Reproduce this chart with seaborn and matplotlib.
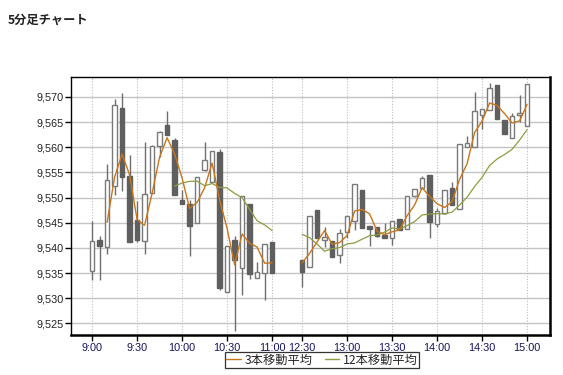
import numpy as np
import pandas as pd
import matplotlib
matplotlib.use("Agg")
import matplotlib.pyplot as plt
import seaborn as sns
from matplotlib.lines import Line2D
from matplotlib.ticker import FuncFormatter

# ---------------- data ----------------
am_times = ["9:00", "9:05", "9:10", "9:15", "9:20", "9:25", "9:30", "9:35", "9:40", "9:45",
            "9:50", "9:55", "10:00", "10:05", "10:10", "10:15", "10:20", "10:25", "10:30",
            "10:35", "10:40", "10:45", "10:50", "10:55", "11:00"]
pm_times = ["12:30", "12:35", "12:40", "12:45", "12:50", "12:55", "13:00", "13:05", "13:10",
            "13:15", "13:20", "13:25", "13:30", "13:35", "13:40", "13:45", "13:50", "13:55",
            "14:00", "14:05", "14:10", "14:15", "14:20", "14:25", "14:30", "14:35", "14:40",
            "14:45", "14:50", "14:55", "15:00"]

opens = [9535.5, 9541.5, 9540.2, 9552.3, 9567.7, 9554.2, 9545.6, 9541.4, 9550.9, 9560.2,
         9564.4, 9561.5, 9549.5, 9548.8, 9544.9, 9555.4, 9553.1, 9559.0, 9531.3, 9541.5,
         9536.1, 9548.8, 9534.1, 9535.1, 9541.1,
         9537.6, 9536.3, 9547.5, 9541.5, 9541.4, 9538.6, 9543.1, 9545.3, 9551.5, 9544.3,
         9544.1, 9542.5, 9541.9, 9545.7, 9543.7, 9550.4, 9551.9, 9554.5, 9544.7, 9547.0,
         9552.0, 9547.8, 9560.1, 9560.1, 9566.5, 9567.4, 9572.3, 9565.4, 9561.9, 9566.5,
         9564.2]
highs = [9545.4, 9542.4, 9556.6, 9569.5, 9570.8, 9558.4, 9549.4, 9561.1, 9560.4, 9563.2,
         9567.2, 9561.9, 9551.5, 9549.5, 9554.0, 9561.1, 9559.2, 9559.7, 9540.4, 9542.4,
         9550.3, 9548.8, 9537.2, 9540.7, 9541.1,
         9537.6, 9546.3, 9547.5, 9544.1, 9541.4, 9543.7, 9546.3, 9552.7, 9551.5, 9544.3,
         9544.1, 9545.0, 9545.4, 9545.7, 9550.3, 9551.8, 9554.3, 9554.5, 9548.0, 9551.6,
         9553.1, 9560.7, 9562.2, 9571.0, 9567.5, 9572.8, 9572.3, 9565.4, 9566.9, 9570.3,
         9572.5]
lows = [9533.7, 9533.6, 9538.8, 9550.5, 9551.3, 9541.2, 9541.2, 9538.8, 9550.9, 9558.1,
        9562.4, 9550.5, 9548.7, 9538.4, 9544.9, 9555.3, 9553.1, 9531.7, 9531.3, 9523.5,
        9530.6, 9533.8, 9534.1, 9529.6, 9535.1,
        9532.2, 9536.3, 9542.0, 9540.1, 9538.1, 9537.0, 9541.9, 9543.5, 9543.9, 9540.4,
        9542.2, 9541.9, 9540.6, 9543.5, 9543.7, 9550.2, 9551.9, 9541.9, 9544.2, 9546.7,
        9548.6, 9547.8, 9560.1, 9560.1, 9563.7, 9567.4, 9565.7, 9562.6, 9561.9, 9565.1,
        9564.2]
closes = [9541.3, 9540.4, 9553.5, 9568.3, 9554.1, 9541.2, 9541.5, 9550.8, 9560.2, 9563.1,
          9562.4, 9550.5, 9548.7, 9544.4, 9554.0, 9557.4, 9559.2, 9532.0, 9540.4, 9537.6,
          9550.3, 9534.9, 9535.3, 9540.7, 9535.1,
          9535.3, 9546.3, 9542.0, 9542.1, 9538.1, 9543.0, 9546.3, 9552.7, 9543.9, 9543.7,
          9542.3, 9541.9, 9545.4, 9543.5, 9550.3, 9551.8, 9553.8, 9545.1, 9547.4, 9551.6,
          9548.6, 9560.7, 9560.9, 9567.2, 9567.5, 9571.7, 9565.7, 9562.6, 9566.2, 9566.9,
          9572.5]

tick_labels = ["9:00", "9:30", "10:00", "10:30", "11:00", "12:30",
               "13:00", "13:30", "14:00", "14:30", "15:00"]
title_text = "5分足チャート"
legend_labels = ["3本移動平均", "12本移動平均"]

# ---------------- layout constants ----------------
PM_SLOT_START = 28   # category slot of the first afternoon bar
BODY_W = 0.62
UP_EDGE = "#7a7a7a"
DOWN_FILL = "#5f5f5f"
WICK = "#6e6e6e"
MA3_COLOR = "#c8761a"
MA12_COLOR = "#8f9c3e"


def slot(t, session):
    h, m = map(int, t.split(":"))
    mins = h * 60 + m
    if session == "am":
        return (mins - 9 * 60) / 5
    return (mins - (12 * 60 + 30)) / 5 + PM_SLOT_START


times = am_times + pm_times
sessions = ["am"] * len(am_times) + ["pm"] * len(pm_times)
df = pd.DataFrame({"time": times, "session": sessions,
                   "open": opens, "high": highs, "low": lows, "close": closes})
df["pos"] = [slot(t, s) for t, s in zip(df["time"], df["session"])]
df["ma3"] = df["close"].rolling(3).mean()
df["ma12"] = df["close"].rolling(12).mean()
df["up"] = df["close"] >= df["open"]

pos_lookup = dict(zip(df["time"], df["pos"]))
tick_pos = [pos_lookup[t] for t in tick_labels]

# ---------------- drawing ----------------
sns.set_style("white")
plt.rcParams["font.family"] = ["Liberation Sans", "Noto Sans CJK JP"]

fig = plt.figure(figsize=(5.63, 3.75), dpi=100)
ax = fig.add_axes([0.1256, 0.1067, 0.9769 - 0.1256, 0.7939 - 0.1067])

# grid
for v in np.arange(9525, 9571, 5):
    ax.axhline(v, color="#c4c4c4", lw=1.0, zorder=0)
for p in tick_pos:
    ax.axvline(p, color="#bdbdbd", lw=0.8, ls=(0, (1, 1.5)), zorder=0)

# wicks
ax.vlines(df["pos"], df["low"], df["high"], color=WICK, lw=1.0, zorder=2)

# bodies
body_bottom = np.minimum(df["open"], df["close"])
body_h = np.maximum(np.abs(df["close"] - df["open"]), 0.25)
up = df["up"].values
ax.bar(df["pos"][up], body_h[up], bottom=body_bottom[up], width=BODY_W,
       color="white", edgecolor=UP_EDGE, linewidth=1.0, zorder=3)
ax.bar(df["pos"][~up], body_h[~up], bottom=body_bottom[~up], width=BODY_W,
       color=DOWN_FILL, edgecolor=DOWN_FILL, linewidth=1.0, zorder=3)

# moving averages (broken at the lunch gap)
sns.lineplot(data=df.dropna(subset=["ma12"]), x="pos", y="ma12", units="session",
             estimator=None, color=MA12_COLOR, lw=0.9, ax=ax, zorder=4)
sns.lineplot(data=df.dropna(subset=["ma3"]), x="pos", y="ma3", units="session",
             estimator=None, color=MA3_COLOR, lw=1.0, ax=ax, zorder=5)

ax.set_xlim(-2.85, 61.05)
ax.set_ylim(9522.7, 9573.9)
ax.set_xlabel("")
ax.set_ylabel("")

ax.set_yticks(np.arange(9525, 9571, 5))
ax.yaxis.set_major_formatter(FuncFormatter(lambda v, _: f"{v:,.0f}"))
ax.set_xticks(tick_pos)
ax.set_xticklabels(tick_labels)
ax.tick_params(axis="y", direction="out", length=4, width=1, color="black",
               labelsize=7.8, labelcolor="#222222", pad=1, left=True)
ax.tick_params(axis="x", direction="out", length=4, width=1, color="black",
               labelsize=7.8, labelcolor="#14145a", pad=2, bottom=True)

for side in ["left", "top"]:
    ax.spines[side].set_linewidth(1.0)
    ax.spines[side].set_color("black")
for side in ["right", "bottom"]:
    ax.spines[side].set_linewidth(1.8)
    ax.spines[side].set_color("black")

# legend
handles = [Line2D([0], [0], color=MA3_COLOR, lw=1.0),
           Line2D([0], [0], color=MA12_COLOR, lw=1.0)]
leg = fig.legend(handles, legend_labels, loc="center", bbox_to_anchor=(0.572, 0.04),
                 ncol=2, frameon=True, fancybox=False, edgecolor="black",
                 handlelength=1.2, handletextpad=0.3, columnspacing=1.0,
                 borderpad=0.12,
                 prop={"family": ["Noto Sans CJK JP", "DejaVu Sans"], "size": 8.8})
leg.get_frame().set_linewidth(0.9)

# title
fig.text(0.014, 0.947, title_text, fontsize=8.8, fontweight="bold", color="#222222",
         family=["Noto Sans CJK JP", "DejaVu Sans"], va="center", ha="left")

fig.savefig("out.png", dpi=100)
